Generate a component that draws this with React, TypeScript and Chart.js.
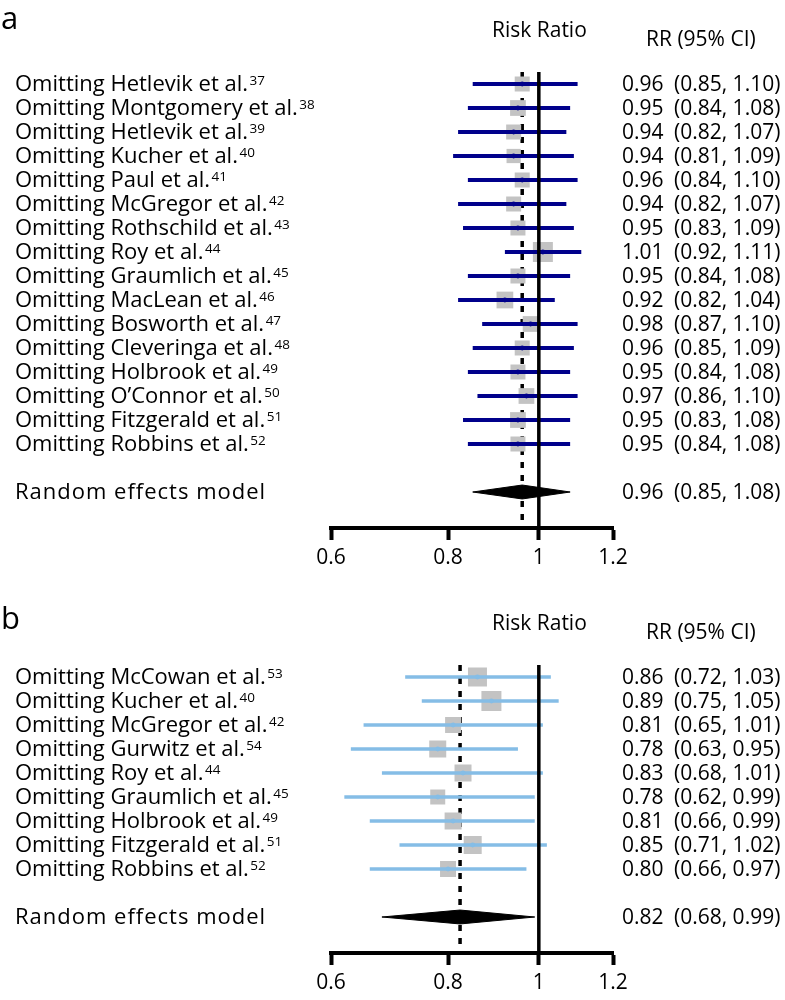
import React, { useEffect, useRef } from 'react';
import { Chart, registerables } from 'chart.js';

Chart.register(...registerables);

// ---------- Panel a ----------
const studiesA = [
  'Omitting Hetlevik et al.', 'Omitting Montgomery et al.', 'Omitting Hetlevik et al.',
  'Omitting Kucher et al.', 'Omitting Paul et al.', 'Omitting McGregor et al.',
  'Omitting Rothschild et al.', 'Omitting Roy et al.', 'Omitting Graumlich et al.',
  'Omitting MacLean et al.', 'Omitting Bosworth et al.', 'Omitting Cleveringa et al.',
  'Omitting Holbrook et al.', "Omitting O\u2019Connor et al.", 'Omitting Fitzgerald et al.',
  'Omitting Robbins et al.',
];
const refsA = ['37', '38', '39', '40', '41', '42', '43', '44', '45', '46', '47', '48', '49', '50', '51', '52'];
const rrA = [0.96, 0.95, 0.94, 0.94, 0.96, 0.94, 0.95, 1.01, 0.95, 0.92, 0.98, 0.96, 0.95, 0.97, 0.95, 0.95];
const lowA = [0.85, 0.84, 0.82, 0.81, 0.84, 0.82, 0.83, 0.92, 0.84, 0.82, 0.87, 0.85, 0.84, 0.86, 0.83, 0.84];
const highA = [1.10, 1.08, 1.07, 1.09, 1.10, 1.07, 1.09, 1.11, 1.08, 1.04, 1.10, 1.09, 1.08, 1.10, 1.08, 1.08];
const weightA = [6.0, 6.3, 6.0, 5.7, 6.0, 6.0, 6.0, 8.0, 6.0, 6.7, 6.3, 6.0, 6.0, 6.3, 6.3, 6.0];
const pooledA = { rr: 0.96, low: 0.85, high: 1.08 };

// ---------- Panel b ----------
const studiesB = [
  'Omitting McCowan et al.', 'Omitting Kucher et al.', 'Omitting McGregor et al.',
  'Omitting Gurwitz et al.', 'Omitting Roy et al.', 'Omitting Graumlich et al.',
  'Omitting Holbrook et al.', 'Omitting Fitzgerald et al.', 'Omitting Robbins et al.',
];
const refsB = ['53', '40', '42', '54', '44', '45', '49', '51', '52'];
const rrB = [0.86, 0.89, 0.81, 0.78, 0.83, 0.78, 0.81, 0.85, 0.80];
const lowB = [0.72, 0.75, 0.65, 0.63, 0.68, 0.62, 0.66, 0.71, 0.66];
const highB = [1.03, 1.05, 1.01, 0.95, 1.01, 0.99, 0.99, 1.02, 0.97];
const weightB = [7.6, 8.0, 6.4, 6.8, 6.8, 6.0, 6.8, 7.2, 6.4];
const pooledB = { rr: 0.824, low: 0.68, high: 0.99 };

const xTickValues = [0.6, 0.8, 1, 1.2];
const pooledLabel = 'Random effects model';
const axisTitle = 'Risk Ratio';
const columnTitle = 'RR (95% CI)';

const FONT = "'Open Sans', 'Noto Sans', sans-serif";

type Panel = {
  letter: string;
  studies: string[];
  refs: string[];
  rr: number[];
  low: number[];
  high: number[];
  weight: number[];
  pooled: { rr: number; low: number; high: number };
  color: string;
  lineWidth: number;
  canvasHeight: number;
  top: number;
  letterBaseline: number;
};

function makeChart(canvas: HTMLCanvasElement, p: Panel) {
  const n = p.studies.length;
  const rows = p.studies.map((_, i) => i + 1);
  const pooledRow = n + 2;
  const yMax = n + 3.5;
  const axisH = 40;
  const rowPx = 24;
  const plotBottom = p.top + (yMax - 0.5) * rowPx;
  const bottomPad = p.canvasHeight - plotBottom - axisH;

  const datasets: any[] = [];
  // dotted line at pooled estimate
  datasets.push({
    type: 'line',
    data: [{ x: p.pooled.rr, y: 0.5 }, { x: p.pooled.rr, y: yMax }],
    borderColor: '#000', borderWidth: 3.5, borderDash: [6, 7], pointRadius: 0, order: 6,
  });
  // grey weight squares
  datasets.push({
    type: 'scatter',
    data: rows.map((r, i) => ({ x: p.rr[i], y: r })),
    pointStyle: 'rect',
    pointRadius: p.weight.map((w) => (w * 2.5) / Math.SQRT2),
    backgroundColor: '#c3c3c3', borderWidth: 0, order: 5,
  });
  // CI lines
  rows.forEach((r, i) => {
    datasets.push({
      type: 'line',
      data: [{ x: p.low[i], y: r }, { x: p.high[i], y: r }],
      borderColor: p.color, borderWidth: p.lineWidth, pointRadius: 0, order: 4,
    });
  });
  // line of no effect
  datasets.push({
    type: 'line',
    data: [{ x: 1, y: 0.5 }, { x: 1, y: yMax }],
    borderColor: '#000', borderWidth: 3.5, pointRadius: 0, order: 3,
  });
  // centre dots
  datasets.push({
    type: 'scatter',
    data: rows.map((r, i) => ({ x: p.rr[i], y: r })),
    pointStyle: 'circle', pointRadius: 2.4,
    backgroundColor: p.color, borderWidth: 0, order: 2,
  });
  // pooled diamond
  const h = 0.29;
  datasets.push({
    type: 'line',
    data: [
      { x: p.pooled.low, y: pooledRow },
      { x: p.pooled.rr, y: pooledRow - h },
      { x: p.pooled.high, y: pooledRow },
      { x: p.pooled.rr, y: pooledRow + h },
      { x: p.pooled.low, y: pooledRow },
    ],
    fill: 'shape', backgroundColor: '#000', borderColor: '#000', borderWidth: 1,
    pointRadius: 0, order: 1,
  });

  const textPlugin = {
    id: 'forestText' + p.letter,
    afterDraw(chart: any) {
      const ctx = chart.ctx as CanvasRenderingContext2D;
      const y = chart.scales.y;
      const area = chart.chartArea;
      ctx.save();
      ctx.fillStyle = '#000';
      ctx.textBaseline = 'alphabetic';
      ctx.textAlign = 'left';
      // panel letter
      ctx.font = `31px ${FONT}`;
      ctx.fillText(p.letter, 1, p.letterBaseline);
      // headings
      ctx.font = `21px ${FONT}`;
      ctx.fillText(axisTitle, 492, area.top - 35);
      ctx.fillText(columnTitle, 646, area.top - 26);
      const fmt = (v: number) => v.toFixed(2);
      const rowText = (row: number, label: string, sup: string | null, rr: number, lo: number, hi: number) => {
        const py = y.getPixelForValue(row) + 7;
        ctx.font = `22px ${FONT}`;
        if (sup) {
          ctx.fillText(label, 15, py);
          const w = ctx.measureText(label).width;
          ctx.font = `13.5px ${FONT}`;
          ctx.fillText(sup, 15 + w + 1.5, py - 6.5);
        } else {
          (ctx as any).letterSpacing = '1px';
          ctx.fillText(label, 15, py);
          (ctx as any).letterSpacing = '0px';
        }
        ctx.font = `21px ${FONT}`;
        ctx.fillText(fmt(rr), 622, py);
        ctx.fillText(`(${fmt(lo)}, ${fmt(hi)})`, 674, py);
      };
      rows.forEach((r, i) => rowText(r, p.studies[i], p.refs[i], p.rr[i], p.low[i], p.high[i]));
      rowText(pooledRow, pooledLabel, null, p.pooled.rr, p.pooled.low, p.pooled.high);
      ctx.restore();
    },
  };

  return new Chart(canvas, {
    type: 'scatter',
    data: { datasets },
    options: {
      responsive: false,
      animation: false,
      events: [],
      layout: { padding: { left: 331, right: 172, top: p.top, bottom: bottomPad } },
      plugins: { legend: { display: false }, tooltip: { enabled: false }, title: { display: false } },
      scales: {
        x: {
          type: 'logarithmic',
          min: 0.6,
          max: 1.2,
          position: 'bottom',
          afterBuildTicks: (s: any) => { s.ticks = xTickValues.map((v) => ({ value: v })); },
          afterFit: (s: any) => { s.height = axisH; },
          ticks: {
            callback: (v: any) => String(v),
            font: { family: FONT, size: 21 },
            color: '#000',
            padding: 5,
            maxRotation: 0,
            autoSkip: false,
          },
          grid: {
            display: true, drawOnChartArea: false, drawTicks: true,
            tickLength: 12, tickWidth: 4, tickColor: '#000',
          },
          border: { display: true, color: '#000', width: 4 },
        },
        y: { type: 'linear', min: 0.5, max: yMax, reverse: true, display: false },
      },
    } as any,
    plugins: [textPlugin],
  });
}

const panelA: Panel = {
  letter: 'a', studies: studiesA, refs: refsA, rr: rrA, low: lowA, high: highA, weight: weightA,
  pooled: pooledA, color: '#00008b', lineWidth: 4, canvasHeight: 580, top: 72, letterBaseline: 29,
};
const panelB: Panel = {
  letter: 'b', studies: studiesB, refs: refsB, rr: rrB, low: lowB, high: highB, weight: weightB,
  pooled: pooledB, color: '#85bde6', lineWidth: 3.5, canvasHeight: 420, top: 85, letterBaseline: 49,
};

export default function App() {
  const refA = useRef<HTMLCanvasElement>(null);
  const refB = useRef<HTMLCanvasElement>(null);
  useEffect(() => {
    const a = makeChart(refA.current!, panelA);
    const b = makeChart(refB.current!, panelB);
    return () => { a.destroy(); b.destroy(); };
  }, []);
  return (
    <div style={{ position: 'absolute', left: 0, top: 0, width: 785, height: 1000, background: '#fff' }}>
      <canvas ref={refA} width={785} height={580} style={{ position: 'absolute', left: 0, top: 0 }} />
      <canvas ref={refB} width={785} height={420} style={{ position: 'absolute', left: 0, top: 580 }} />
    </div>
  );
}
